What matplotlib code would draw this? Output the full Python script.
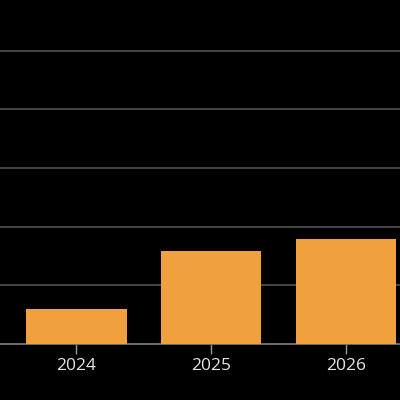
import matplotlib
matplotlib.use("Agg")
import matplotlib.pyplot as plt

# values (grid step = 20)
years = ["2024", "2025", "2026"]
values = [12.0, 31.8, 35.9]

bar_color = "#F0A03C"
grid_color = "#5a5a5a"
text_color = "#e6e6e6"

fig = plt.figure(figsize=(4, 4), dpi=100, facecolor="black")
ax = fig.add_axes([0, 0.14, 1, 0.86], facecolor="black")

x = range(len(years))
ax.bar(x, values, width=0.746, color=bar_color, zorder=3)

ax.set_xlim(-0.568, 2.402)
ax.set_ylim(0, 117.3)
ax.set_yticks([20, 40, 60, 80, 100])
ax.yaxis.grid(True, color=grid_color, linewidth=1.1, zorder=0)
ax.tick_params(axis="y", left=False, labelleft=False)

ax.set_xticks(list(x))
ax.set_xticklabels(years, fontsize=12.5, color=text_color, family=["Open Sans", "DejaVu Sans"])
ax.tick_params(axis="x", length=7, width=1, color="#999999", pad=3)

for s in ["top", "left", "right"]:
    ax.spines[s].set_visible(False)
ax.spines["bottom"].set_color("#8a8a8a")
ax.spines["bottom"].set_linewidth(1.1)

fig.savefig("out.png", dpi=100, facecolor="black")
